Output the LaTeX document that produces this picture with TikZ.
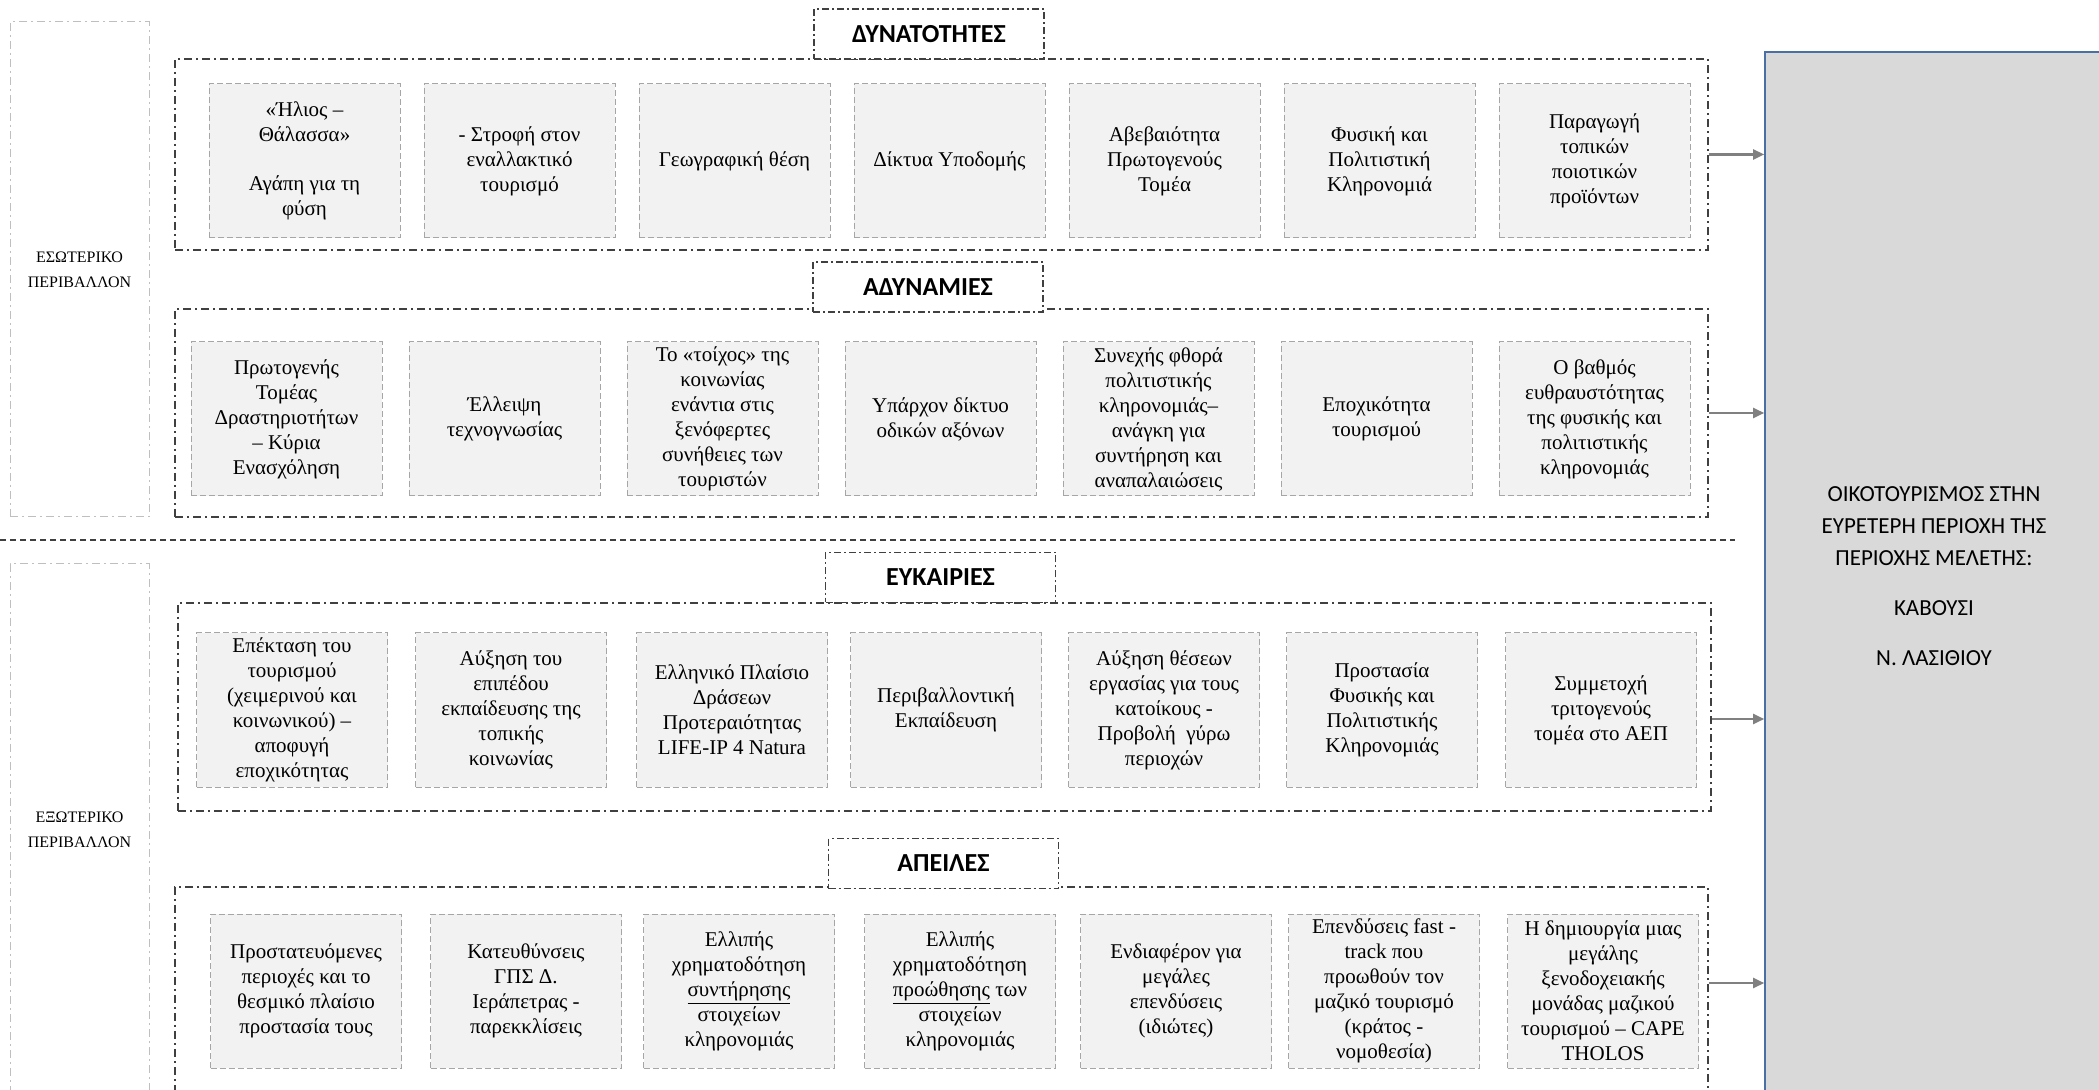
\documentclass[tikz,border=0pt]{standalone}
\usepackage{fontspec}
\setmainfont{Liberation Serif}
\newfontfamily\headfont{Carlito}
\usepackage{xcolor}
\usetikzlibrary{arrows.meta}

\definecolor{boxfill}{HTML}{F2F2F2}
\definecolor{boxline}{HTML}{A6A6A6}
\definecolor{grpline}{HTML}{404040}
\definecolor{envline}{HTML}{BFBFBF}
\definecolor{mainfill}{HTML}{D9D9D9}
\definecolor{mainline}{HTML}{4A6FA5}
\definecolor{arrowgray}{HTML}{808080}

\begin{document}
\begin{tikzpicture}[x=0.5pt,y=-0.5pt,
		item/.style={draw=boxline, fill=boxfill, dash pattern=on 3pt off 1.5pt, line width=0.5pt, minimum width=95.5pt, minimum height=77pt, inner sep=1pt, align=center, font=\fontsize{10.5}{12.5}\selectfont},
		group/.style={draw=grpline, dash pattern=on 4pt off 2pt on 1pt off 2pt, line width=0.9pt, minimum width=766.5pt, inner sep=0pt},
		heading/.style={draw=grpline, fill=white, dash pattern=on 3.5pt off 1.5pt on 1pt off 1.5pt, line width=0.6pt, minimum width=115pt, minimum height=25pt, font=\headfont\bfseries\fontsize{13}{15}\selectfont},
		env/.style={draw=envline, dash pattern=on 4pt off 2pt on 1pt off 2pt, line width=0.5pt, minimum width=69.5pt, align=center, font=\fontsize{8}{12.5}\selectfont},
		flow/.style={draw=arrowgray, line width=1.2pt, -{Triangle[length=5.5pt,width=5pt]}}]
			\clip (0,0) rectangle (2099,1090);

			\node[env, minimum height=247.5pt] (intenv) at (79.5,269.5) {ΕΣΩΤΕΡΙΚΟ\\ΠΕΡΙΒΑΛΛΟΝ};
			\node[env, minimum height=266pt] (extenv) at (79.5,830) {ΕΞΩΤΕΡΙΚΟ\\ΠΕΡΙΒΑΛΛΟΝ};

			\coordinate (sepL) at (0,540);
			\coordinate (sepR) at (1735,540);
			\draw[grpline, line width=1pt, dash pattern=on 3pt off 2pt] (sepL) -- (sepR);

			\node[group, minimum height=95.5pt] (strgrp) at (941.5,154.5) {};
			\node[group, minimum height=104pt] (wkgrp) at (941.5,413) {};
			\node[group, minimum height=104pt] (opgrp) at (944.5,707) {};
			\node[group, minimum height=105pt] (thgrp) at (941.5,992) {};

			\node[heading] (strttl) at (929,34) {ΔΥΝΑΤΟΤΗΤΕΣ};
			\node[heading] (wkttl) at (928,287) {ΑΔΥΝΑΜΙΕΣ};
			\node[heading] (opttl) at (940.5,577.5) {ΕΥΚΑΙΡΙΕΣ};
			\node[heading] (thttl) at (943.5,863.5) {ΑΠΕΙΛΕΣ};

			\node[item] (str1) at (304.5,161) {«Ήλιος –\\Θάλασσα»\\[12pt]Αγάπη για τη\\φύση};
			\node[item] (str2) at (519.5,161) {- Στροφή στον\\εναλλακτικό\\τουρισμό};
			\node[item] (str3) at (734.5,161) {Γεωγραφική θέση};
			\node[item] (str4) at (949.5,161) {Δίκτυα Υποδομής};
			\node[item] (str5) at (1164.5,161) {Αβεβαιότητα\\Πρωτογενούς\\Τομέα};
			\node[item] (str6) at (1379.5,161) {Φυσική και\\Πολιτιστική\\Κληρονομιά};
			\node[item] (str7) at (1594.5,161) {Παραγωγή\\τοπικών\\ποιοτικών\\προϊόντων};

			\node[item] (wk1) at (286.5,419) {Πρωτογενής\\Τομέας\\Δραστηριοτήτων\\– Κύρια\\Ενασχόληση};
			\node[item] (wk2) at (504.5,419) {Έλλειψη\\τεχνογνωσίας};
			\node[item] (wk3) at (722.5,419) {Το «τοίχος» της\\κοινωνίας\\ενάντια στις\\ξενόφερτες\\συνήθειες των\\τουριστών};
			\node[item] (wk4) at (940.5,419) {Υπάρχον δίκτυο\\οδικών αξόνων};
			\node[item] (wk5) at (1158.5,419) {Συνεχής φθορά\\πολιτιστικής\\κληρονομιάς–\\ανάγκη για\\συντήρηση και\\αναπαλαιώσεις};
			\node[item] (wk6) at (1376.5,419) {Εποχικότητα\\τουρισμού};
			\node[item] (wk7) at (1594.5,419) {Ο βαθμός\\ευθραυστότητας\\της φυσικής και\\πολιτιστικής\\κληρονομιάς};

			\node[item] (op1) at (292,710) {Επέκταση του\\τουρισμού\\(χειμερινού και\\κοινωνικού) –\\αποφυγή\\εποχικότητας};
			\node[item] (op2) at (511,710) {Αύξηση του\\επιπέδου\\εκπαίδευσης της\\τοπικής\\κοινωνίας};
			\node[item] (op3) at (732,710) {Ελληνικό Πλαίσιο\\Δράσεων\\Προτεραιότητας\\LIFE-IP 4 Natura};
			\node[item] (op4) at (946,710) {Περιβαλλοντική\\Εκπαίδευση};
			\node[item] (op5) at (1164,710) {Αύξηση θέσεων\\εργασίας για τους\\κατοίκους -\\Προβολή \ γύρω\\περιοχών};
			\node[item] (op6) at (1382,710) {Προστασία\\Φυσικής και\\Πολιτιστικής\\Κληρονομιάς};
			\node[item] (op7) at (1601,710) {Συμμετοχή\\τριτογενούς\\τομέα στο ΑΕΠ};

			\node[item] (th1) at (306,991) {Προστατευόμενες\\περιοχές και το\\θεσμικό πλαίσιο\\προστασία τους};
			\node[item] (th2) at (526,991) {Κατευθύνσεις\\ΓΠΣ Δ.\\Ιεράπετρας -\\παρεκκλίσεις};
			\node[item] (th3) at (739,991) {Ελλιπής\\χρηματοδότηση\\\underline{συντήρησης}\\στοιχείων\\κληρονομιάς};
			\node[item] (th4) at (960,991) {Ελλιπής\\χρηματοδότηση\\\underline{προώθησης} των\\στοιχείων\\κληρονομιάς};
			\node[item] (th5) at (1176,991) {Ενδιαφέρον για\\μεγάλες\\επενδύσεις\\(ιδιώτες)};
			\node[item] (th6) at (1384,991) {Επενδύσεις fast -\\track που\\προωθούν τον\\μαζικό τουρισμό\\(κράτος -\\νομοθεσία)};
			\node[item] (th7) at (1603,991) {Η δημιουργία μιας\\μεγάλης\\ξενοδοχειακής\\μονάδας μαζικού\\τουρισμού – CAPE\\THOLOS};

			\node[draw=mainline, fill=mainfill, line width=0.8pt, minimum width=169pt, minimum height=524pt, align=center, font=\headfont\fontsize{11.5}{16}\selectfont] (eco) at (1934,576) {ΟΙΚΟΤΟΥΡΙΣΜΟΣ ΣΤΗΝ\\ΕΥΡΕΤΕΡΗ ΠΕΡΙΟΧΗ ΤΗΣ\\ΠΕΡΙΟΧΗΣ ΜΕΛΕΤΗΣ:\\[9pt]ΚΑΒΟΥΣΙ\\[9pt]Ν. ΛΑΣΙΘΙΟΥ};

			\draw[flow] (strgrp.east) -- (strgrp.east -| eco.west);
			\draw[flow] (wkgrp.east) -- (wkgrp.east -| eco.west);
			\draw[flow] ([yshift=-6pt]opgrp.east) -- ([yshift=-6pt]opgrp.east -| eco.west);
			\draw[flow] ([yshift=4.5pt]thgrp.east) -- ([yshift=4.5pt]thgrp.east -| eco.west);
		\end{tikzpicture}
\end{document}
